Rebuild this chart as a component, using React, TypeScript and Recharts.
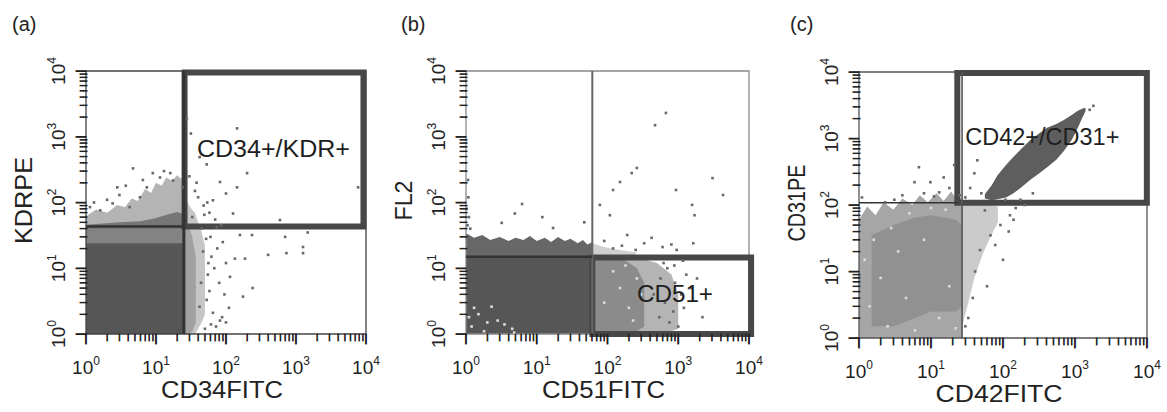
import React from "react";
import {
  ComposedChart,
  Area,
  Scatter,
  XAxis,
  YAxis,
  ReferenceLine,
  ReferenceArea,
} from "recharts";

const FONT = "'Liberation Sans', Arial, Helvetica, sans-serif";

// log axis ticks (major + minor)
const LOG_TICKS = [
  1, 2, 3, 4, 5, 6, 7, 8, 9,
  10, 20, 30, 40, 50, 60, 70, 80, 90,
  100, 200, 300, 400, 500, 600, 700, 800, 900,
  1000, 2000, 3000, 4000, 5000, 6000, 7000, 8000, 9000,
  10000,
];
const MAJOR_TICKS = [1, 10, 100, 1000, 10000];
const MAJOR_EXP = ["0", "1", "2", "3", "4"];

// ---------- panel (a) ----------
const A_SOLID = [
  { x: 1, lo: 1, hi: 24 },
  { x: 25, lo: 1, hi: 24 },
];
const A_DENSE = [
  { x: 1, lo: 21, hi: 46 },
  { x: 3, lo: 21, hi: 50 },
  { x: 6, lo: 21, hi: 52 },
  { x: 10, lo: 21, hi: 58 },
  { x: 15, lo: 21, hi: 66 },
  { x: 20, lo: 21, hi: 72 },
  { x: 25, lo: 21, hi: 66 },
];
const A_CLOUD = [
  { x: 1, lo: 40, hi: 62 },
  { x: 1.4, lo: 40, hi: 78 },
  { x: 2, lo: 40, hi: 70 },
  { x: 2.8, lo: 40, hi: 92 },
  { x: 3.6, lo: 40, hi: 85 },
  { x: 4.5, lo: 40, hi: 115 },
  { x: 5.5, lo: 40, hi: 105 },
  { x: 7, lo: 40, hi: 160 },
  { x: 8.5, lo: 40, hi: 140 },
  { x: 10, lo: 40, hi: 200 },
  { x: 12, lo: 40, hi: 180 },
  { x: 14, lo: 40, hi: 240 },
  { x: 17, lo: 40, hi: 215 },
  { x: 20, lo: 40, hi: 260 },
  { x: 23, lo: 40, hi: 230 },
  { x: 25, lo: 40, hi: 250 },
];
const A_RIGHT = [
  { x: 25, lo: 1, hi: 120 },
  { x: 28, lo: 1, hi: 100 },
  { x: 32, lo: 1, hi: 80 },
  { x: 36, lo: 1, hi: 70 },
  { x: 40, lo: 1.2, hi: 50 },
  { x: 45, lo: 1.5, hi: 35 },
  { x: 50, lo: 2, hi: 22 },
];
const A_RIGHT_CORE = [
  { x: 25, lo: 1, hi: 55 },
  { x: 29, lo: 1, hi: 45 },
  { x: 33, lo: 1.1, hi: 30 },
  { x: 37, lo: 1.5, hi: 15 },
];
const A_POINTS = [
  { x: 4.7, y: 330 }, { x: 3.7, y: 180 }, { x: 27.6, y: 1900 }, { x: 31.5, y: 1120 },
  { x: 144, y: 1340 }, { x: 42, y: 490 }, { x: 53, y: 380 }, { x: 200, y: 280 },
  { x: 144, y: 170 }, { x: 82, y: 205 }, { x: 7700, y: 170 }, { x: 590, y: 54 },
  { x: 235, y: 32 }, { x: 158, y: 32 }, { x: 700, y: 30 }, { x: 1470, y: 35 },
  { x: 1260, y: 21 }, { x: 1260, y: 17 }, { x: 730, y: 17 }, { x: 400, y: 16 },
  { x: 187, y: 14 }, { x: 134, y: 14 }, { x: 100, y: 12 }, { x: 240, y: 5 },
  { x: 175, y: 3.7 }, { x: 114, y: 7.4 }, { x: 82, y: 1.6 }, { x: 100, y: 1.5 },
  { x: 53, y: 3.3 }, { x: 65, y: 2.1 }, { x: 74, y: 42 }, { x: 126, y: 68 },
  { x: 65, y: 108 }, { x: 100, y: 137 }, { x: 1.6, y: 76 }, { x: 2.4, y: 97 },
  { x: 2.8, y: 170 }, { x: 9, y: 280 }, { x: 11.4, y: 240 }, { x: 17.5, y: 216 },
  { x: 7.4, y: 170 }, { x: 5.9, y: 120 }, { x: 1.14, y: 85 }, { x: 4.2, y: 85 },
  { x: 24, y: 170 }, { x: 36, y: 150 }, { x: 40, y: 120 }, { x: 48, y: 90 },
  { x: 58, y: 70 }, { x: 70, y: 55 }, { x: 85, y: 45 }, { x: 60, y: 30 },
  { x: 75, y: 20 }, { x: 90, y: 25 }, { x: 68, y: 10 }, { x: 80, y: 6 },
  { x: 95, y: 4 }, { x: 55, y: 8 }, { x: 72, y: 1.3 }, { x: 88, y: 1.8 },
  { x: 110, y: 2.5 }, { x: 50, y: 1.2 }, { x: 62, y: 15 }, { x: 45, y: 40 },
  { x: 38, y: 200 }, { x: 30, y: 250 }, { x: 33, y: 60 }, { x: 52, y: 28 },
  { x: 47, y: 18 }, { x: 56, y: 12 }, { x: 44, y: 6 }, { x: 58, y: 4.5 },
  { x: 42, y: 2.6 }, { x: 61, y: 1.4 }, { x: 49, y: 65 }, { x: 54, y: 100 },
  { x: 3, y: 130 }, { x: 6.5, y: 220 }, { x: 13, y: 300 }, { x: 16, y: 280 },
  { x: 1.3, y: 100 }, { x: 2, y: 110 },
];
const A_LABEL = [{ x: 38.5, y: 485, text: "CD34+/KDR+" }];
const A_GATE = { x1: 25.6, x2: 9200, y1: 43, y2: 9450 };
const A_SPLIT = { x: 25, y: 43 };

// ---------- panel (b) ----------
const B_SOLID = [
  { x: 1, lo: 1, hi: 15.4 },
  { x: 61, lo: 1, hi: 15.4 },
];
const B_TOP = [
  { x: 1, lo: 15, hi: 34 }, { x: 1.3, lo: 15, hi: 29 }, { x: 1.7, lo: 15, hi: 32 },
  { x: 2.2, lo: 15, hi: 27 }, { x: 3, lo: 15, hi: 30 }, { x: 4, lo: 15, hi: 26 },
  { x: 5, lo: 15, hi: 29 }, { x: 6.5, lo: 15, hi: 27 }, { x: 8, lo: 15, hi: 31 },
  { x: 10, lo: 15, hi: 26 }, { x: 13, lo: 15, hi: 29 }, { x: 16, lo: 15, hi: 25 },
  { x: 20, lo: 15, hi: 30 }, { x: 25, lo: 15, hi: 26 }, { x: 30, lo: 15, hi: 28 },
  { x: 38, lo: 15, hi: 24 }, { x: 45, lo: 15, hi: 27 }, { x: 52, lo: 15, hi: 23 },
  { x: 61, lo: 15, hi: 25 },
];
const B_RIGHT = [
  { x: 61, lo: 1, hi: 15 }, { x: 150, lo: 1, hi: 15 }, { x: 300, lo: 1, hi: 14 },
  { x: 500, lo: 1.05, hi: 12 }, { x: 800, lo: 1.1, hi: 8 }, { x: 1000, lo: 1.2, hi: 4 },
];
const B_RIGHT_CORE = [
  { x: 61, lo: 1, hi: 15 }, { x: 100, lo: 1, hi: 15 }, { x: 180, lo: 1, hi: 13 },
  { x: 260, lo: 1.1, hi: 10 }, { x: 330, lo: 1.3, hi: 6 },
];
const B_RIGHT_TOP = [
  { x: 61, lo: 15, hi: 24 }, { x: 90, lo: 15, hi: 21 }, { x: 150, lo: 15, hi: 19 },
  { x: 250, lo: 15, hi: 17.5 },
];
const B_POINTS = [
  { x: 670, y: 2300 }, { x: 470, y: 1500 }, { x: 260, y: 335 }, { x: 220, y: 280 },
  { x: 150, y: 205 }, { x: 120, y: 155 }, { x: 108, y: 64 }, { x: 78, y: 92 },
  { x: 930, y: 155 }, { x: 3050, y: 235 }, { x: 4300, y: 130 }, { x: 1570, y: 92 },
  { x: 1700, y: 64 }, { x: 1630, y: 24 }, { x: 420, y: 29 }, { x: 190, y: 32 },
  { x: 800, y: 23 }, { x: 1170, y: 13 }, { x: 1840, y: 7 }, { x: 2200, y: 1.8 },
  { x: 1.07, y: 220 }, { x: 4.9, y: 68 }, { x: 6.2, y: 95 }, { x: 3.2, y: 49 },
  { x: 12, y: 60 }, { x: 47, y: 50 }, { x: 17, y: 41 }, { x: 950, y: 19 },
  { x: 600, y: 21 }, { x: 1.05, y: 45 }, { x: 1.1, y: 60 }, { x: 1.02, y: 80 },
  { x: 1.08, y: 120 }, { x: 1.15, y: 40 }, { x: 700, y: 10 }, { x: 900, y: 6 },
  { x: 1100, y: 4 }, { x: 650, y: 3 }, { x: 850, y: 2.2 }, { x: 1000, y: 1.3 },
  { x: 1300, y: 8 }, { x: 1200, y: 2.5 }, { x: 750, y: 1.5 }, { x: 1500, y: 5 },
  { x: 120, y: 20 }, { x: 160, y: 22 }, { x: 250, y: 19 }, { x: 330, y: 24 },
  { x: 90, y: 26 }, { x: 560, y: 7 }, { x: 620, y: 12 }, { x: 880, y: 11 },
  { x: 450, y: 4 }, { x: 540, y: 1.8 },
];
const B_WHITE = [
  { x: 1.2, y: 1.3 }, { x: 1.5, y: 2.0 }, { x: 2.3, y: 2.6 }, { x: 1.1, y: 1.8 },
  { x: 3.5, y: 1.4 }, { x: 1.8, y: 1.1 }, { x: 4.5, y: 1.2 }, { x: 2.8, y: 1.6 },
  { x: 1.3, y: 2.5 }, { x: 4.8, y: 1.05 }, { x: 2.0, y: 1.5 },
  { x: 150, y: 5 }, { x: 200, y: 2.5 }, { x: 120, y: 9 }, { x: 260, y: 7 },
  { x: 90, y: 3 }, { x: 180, y: 11 }, { x: 230, y: 1.6 }, { x: 300, y: 4 },
];
const B_LABEL = [{ x: 261, y: 3.07, text: "CD51+" }];
const B_GATE = { x1: 61, x2: 10700, y1: 1, y2: 14.6 };
const B_SPLIT = { x: 61, y: 15 };

// ---------- panel (c) ----------
const C_CLOUD = [
  { x: 1, lo: 1, hi: 60 }, { x: 1.3, lo: 1, hi: 95 }, { x: 1.7, lo: 1, hi: 70 },
  { x: 2.2, lo: 1, hi: 110 }, { x: 3, lo: 1, hi: 85 }, { x: 4, lo: 1, hi: 125 },
  { x: 5.5, lo: 1, hi: 100 }, { x: 7, lo: 1, hi: 140 }, { x: 9, lo: 1, hi: 110 },
  { x: 12, lo: 1, hi: 150 }, { x: 15, lo: 1, hi: 115 }, { x: 19, lo: 1, hi: 160 },
  { x: 23, lo: 1, hi: 120 }, { x: 27, lo: 1, hi: 130 },
];
const C_CORE = [
  { x: 1.5, lo: 1.5, hi: 35 }, { x: 3, lo: 1.5, hi: 50 }, { x: 6, lo: 2, hi: 65 },
  { x: 10, lo: 2.5, hi: 70 }, { x: 15, lo: 2.5, hi: 65 }, { x: 22, lo: 2.5, hi: 60 },
  { x: 27, lo: 3, hi: 50 },
];
const C_RIGHT = [
  { x: 27, lo: 1.5, hi: 105 }, { x: 32, lo: 3, hi: 110 }, { x: 40, lo: 8, hi: 115 },
  { x: 52, lo: 18, hi: 110 }, { x: 66, lo: 32, hi: 100 }, { x: 85, lo: 55, hi: 95 },
];
const C_BLOB = [
  { x: 56, lo: 125, hi: 145 }, { x: 70, lo: 118, hi: 200 }, { x: 84, lo: 122, hi: 280 },
  { x: 110, lo: 130, hi: 400 }, { x: 140, lo: 150, hi: 530 }, { x: 180, lo: 185, hi: 700 },
  { x: 240, lo: 240, hi: 950 }, { x: 320, lo: 300, hi: 1200 }, { x: 410, lo: 370, hi: 1450 },
  { x: 550, lo: 480, hi: 1650 }, { x: 700, lo: 650, hi: 1900 }, { x: 900, lo: 950, hi: 2250 },
  { x: 1080, lo: 1400, hi: 2600 }, { x: 1250, lo: 2000, hi: 2800 }, { x: 1400, lo: 2600, hi: 2900 },
];
const C_POINTS = [
  { x: 6.8, y: 370 }, { x: 5.9, y: 220 }, { x: 9.8, y: 220 }, { x: 15, y: 260 },
  { x: 21, y: 400 }, { x: 40, y: 300 }, { x: 44, y: 470 }, { x: 260, y: 150 },
  { x: 13, y: 155 }, { x: 3.1, y: 120 }, { x: 2.3, y: 110 }, { x: 56, y: 83 },
  { x: 92, y: 50 }, { x: 125, y: 70 }, { x: 78, y: 25 }, { x: 41, y: 10 },
  { x: 48, y: 21 }, { x: 67, y: 35 }, { x: 108, y: 120 }, { x: 175, y: 120 },
  { x: 35, y: 180 }, { x: 50, y: 150 }, { x: 30, y: 130 }, { x: 120, y: 40 },
  { x: 140, y: 60 }, { x: 100, y: 15 }, { x: 60, y: 6 }, { x: 33, y: 2 },
  { x: 38, y: 4 }, { x: 1800, y: 3100 }, { x: 1600, y: 2700 }, { x: 150, y: 90 },
  { x: 200, y: 100 }, { x: 1.1, y: 130 }, { x: 8, y: 150 }, { x: 18, y: 180 },
  { x: 4, y: 140 }, { x: 11, y: 135 }, { x: 25, y: 140 }, { x: 30, y: 1.5 },
];
const C_WHITE = [
  { x: 1.4, y: 3 }, { x: 2.5, y: 1.5 }, { x: 2, y: 8 }, { x: 3.5, y: 20 },
  { x: 1.2, y: 15 }, { x: 4.5, y: 4 }, { x: 6, y: 1.3 }, { x: 8, y: 30 },
  { x: 13, y: 2 }, { x: 18, y: 6 }, { x: 22, y: 1.4 }, { x: 2.8, y: 45 },
  { x: 1.6, y: 30 }, { x: 5, y: 75 }, { x: 10, y: 90 }, { x: 16, y: 85 },
];
const C_LABEL = [{ x: 30, y: 790, text: "CD42+/CD31+" }];
const C_GATE = { x1: 23.2, x2: 9950, y1: 108, y2: 9700 };
const C_SPLIT = { x: 27, y: 108 };

const PANELS = [
  {
    letter: "(a)",
    left: 0,
    margin: { top: 71, right: 23, bottom: 48, left: 26 },
    xTitle: "CD34FITC",
    xTitleLen: 122,
    yTitle: "KDRPE",
    yTitleLen: 87,
    bands: [
      { rows: A_SOLID, fill: "#565656", opacity: 1 },
      { rows: A_DENSE, fill: "#5a5a5a", opacity: 0.75 },
      { rows: A_CLOUD, fill: "#6a6a6a", opacity: 0.5 },
      { rows: A_RIGHT, fill: "#6a6a6a", opacity: 0.38 },
      { rows: A_RIGHT_CORE, fill: "#6a6a6a", opacity: 0.4 },
    ],
    points: A_POINTS,
    white: [] as { x: number; y: number }[],
    label: A_LABEL,
    labelLen: 153,
    gate: A_GATE,
    split: A_SPLIT,
    frame: "#444",
    vColor: "#333",
    vWidth: 3,
    hWidth: 2.5,
  },
  {
    letter: "(b)",
    left: 389,
    margin: { top: 71, right: 29, bottom: 48, left: 17 },
    xTitle: "CD51FITC",
    xTitleLen: 123,
    yTitle: "FL2",
    yTitleLen: 40,
    bands: [
      { rows: B_SOLID, fill: "#565656", opacity: 1 },
      { rows: B_TOP, fill: "#5a5a5a", opacity: 0.92 },
      { rows: B_RIGHT, fill: "#6a6a6a", opacity: 0.5 },
      { rows: B_RIGHT_CORE, fill: "#6a6a6a", opacity: 0.55 },
      { rows: B_RIGHT_TOP, fill: "#777777", opacity: 0.35 },
    ],
    points: B_POINTS,
    white: B_WHITE,
    label: B_LABEL,
    labelLen: 76,
    gate: B_GATE,
    split: B_SPLIT,
    frame: "#888",
    vColor: "#666",
    vWidth: 2,
    hWidth: 2.5,
  },
  {
    letter: "(c)",
    left: 778,
    margin: { top: 72, right: 20, bottom: 44, left: 21 },
    xTitle: "CD42FITC",
    xTitleLen: 127,
    yTitle: "CD31PE",
    yTitleLen: 77,
    bands: [
      { rows: C_CLOUD, fill: "#6a6a6a", opacity: 0.6 },
      { rows: C_CORE, fill: "#6a6a6a", opacity: 0.35 },
      { rows: C_RIGHT, fill: "#6a6a6a", opacity: 0.35 },
      { rows: C_BLOB, fill: "#5e5e5e", opacity: 1 },
    ],
    points: C_POINTS,
    white: C_WHITE,
    label: C_LABEL,
    labelLen: 154,
    gate: C_GATE,
    split: C_SPLIT,
    frame: "#555",
    vColor: "#555",
    vWidth: 1.6,
    hWidth: 1.6,
  },
];

// x,y is the plot edge; each tick draws its own mark and (for decades) the label
const XTick = (props: any) => {
  const { x, y, payload } = props;
  const idx = MAJOR_TICKS.indexOf(payload.value);
  const major = idx >= 0;
  const fs = major ? 11 : 7;
  return (
    <g>
      <text
        x={x}
        y={y + fs * 0.73}
        textAnchor="middle"
        fontSize={fs}
        fill="#222"
        stroke="#222"
        strokeWidth={0.9}
        fontFamily={FONT}
      >
        |
      </text>
      {major && (
        <text x={x} y={y + 40} textAnchor="middle" fontSize={19} fill="#222" fontFamily={FONT}>
          10
          <tspan dy={-9} fontSize={12}>
            {MAJOR_EXP[idx]}
          </tspan>
        </text>
      )}
    </g>
  );
};

const YTick = (props: any) => {
  const { x, y, payload } = props;
  const idx = MAJOR_TICKS.indexOf(payload.value);
  const major = idx >= 0;
  const fs = major ? 11 : 7;
  const mx = x - fs * 0.21;
  const tx = x - 21;
  return (
    <g>
      <text
        x={mx}
        y={y}
        transform={`rotate(-90 ${mx} ${y})`}
        textAnchor="middle"
        fontSize={fs}
        fill="#222"
        stroke="#222"
        strokeWidth={0.9}
        fontFamily={FONT}
      >
        |
      </text>
      {major && (
        <text
          x={tx}
          y={y}
          transform={`rotate(-90 ${tx} ${y})`}
          textAnchor="middle"
          fontSize={19}
          fill="#222"
          fontFamily={FONT}
        >
          10
          <tspan dy={-9} fontSize={12}>
            {MAJOR_EXP[idx]}
          </tspan>
        </text>
      )}
    </g>
  );
};

const Dot = (props: any) => (
  <rect x={props.cx - 1.3} y={props.cy - 1.3} width={2.6} height={2.6} fill={props.fill} />
);

function Panel({ cfg }: { cfg: (typeof PANELS)[number] }) {
  const xTitle = (p: any) => {
    const vb = p.viewBox || {};
    return (
      <text
        x={vb.x + vb.width / 2 - 4}
        y={vb.y + 64}
        textAnchor="middle"
        fontSize={23}
        textLength={cfg.xTitleLen}
        lengthAdjust="spacingAndGlyphs"
        fill="#222"
        fontFamily={FONT}
      >
        {cfg.xTitle}
      </text>
    );
  };
  const yTitle = (p: any) => {
    const vb = p.viewBox || {};
    const tx = vb.x + vb.width - 54;
    const ty = vb.y + vb.height / 2 - 2;
    return (
      <text
        x={tx}
        y={ty}
        transform={`rotate(-90 ${tx} ${ty})`}
        textAnchor="middle"
        fontSize={23}
        textLength={cfg.yTitleLen}
        lengthAdjust="spacingAndGlyphs"
        fill="#222"
        fontFamily={FONT}
      >
        {cfg.yTitle}
      </text>
    );
  };
  const gateText = (p: any) => (
    <text
      x={p.cx}
      y={p.cy}
      fontSize={23}
      textLength={cfg.labelLen}
      lengthAdjust="spacingAndGlyphs"
      fill="#1e1e1e"
      fontFamily={FONT}
    >
      {p.payload.text}
    </text>
  );

  return (
    <div style={{ position: "absolute", left: cfg.left, top: 0 }}>
      <ComposedChart width={389} height={412} margin={cfg.margin}>
        <XAxis
          type="number"
          dataKey="x"
          scale="log"
          domain={[1, 10000]}
          ticks={LOG_TICKS}
          interval={0}
          tick={<XTick />}
          tickSize={0}
          tickMargin={0}
          tickLine={false}
          axisLine={false}
          height={30}
          label={xTitle}
        />
        <YAxis
          type="number"
          dataKey="y"
          scale="log"
          domain={[1, 10000]}
          ticks={LOG_TICKS}
          interval={0}
          tick={<YTick />}
          tickSize={0}
          tickMargin={0}
          tickLine={false}
          axisLine={false}
          width={60}
          label={yTitle}
        />
        {cfg.bands.map((b, i) => (
          <Area
            key={i}
            data={b.rows.map((r) => ({ x: r.x, v: [r.lo, r.hi] }))}
            dataKey="v"
            type="linear"
            stroke="none"
            fill={b.fill}
            fillOpacity={b.opacity}
            dot={false}
            activeDot={false}
            isAnimationActive={false}
          />
        ))}
        <Scatter data={cfg.points} fill="#686868" shape={Dot} isAnimationActive={false} />
        {cfg.white.length > 0 && (
          <Scatter data={cfg.white} fill="#dcdcdc" shape={Dot} isAnimationActive={false} />
        )}
        <ReferenceArea
          x1={1}
          x2={10000}
          y1={1}
          y2={10000}
          fill="none"
          stroke={cfg.frame}
          strokeWidth={1.3}
          ifOverflow="visible"
        />
        <ReferenceLine
          segment={[
            { x: cfg.split.x, y: 1 },
            { x: cfg.split.x, y: 10000 },
          ]}
          stroke={cfg.vColor}
          strokeWidth={cfg.vWidth}
          ifOverflow="visible"
        />
        <ReferenceLine
          segment={[
            { x: 1, y: cfg.split.y },
            { x: cfg.gate.x1, y: cfg.split.y },
          ]}
          stroke="#333"
          strokeWidth={cfg.hWidth}
          ifOverflow="visible"
        />
        <ReferenceArea
          x1={cfg.gate.x1}
          x2={cfg.gate.x2}
          y1={cfg.gate.y1}
          y2={cfg.gate.y2}
          fill="none"
          stroke="#474747"
          strokeWidth={6}
          ifOverflow="visible"
        />
        <Scatter data={cfg.label} shape={gateText} isAnimationActive={false} />
      </ComposedChart>
      <div
        style={{
          position: "absolute",
          left: 12,
          top: 13,
          fontFamily: FONT,
          fontSize: 20,
          color: "#222",
        }}
      >
        {cfg.letter}
      </div>
    </div>
  );
}

export default function App() {
  return (
    <div
      style={{
        position: "absolute",
        left: 0,
        top: 0,
        width: 1167,
        height: 412,
        background: "#fff",
      }}
    >
      {PANELS.map((p) => (
        <Panel key={p.letter} cfg={p} />
      ))}
    </div>
  );
}
